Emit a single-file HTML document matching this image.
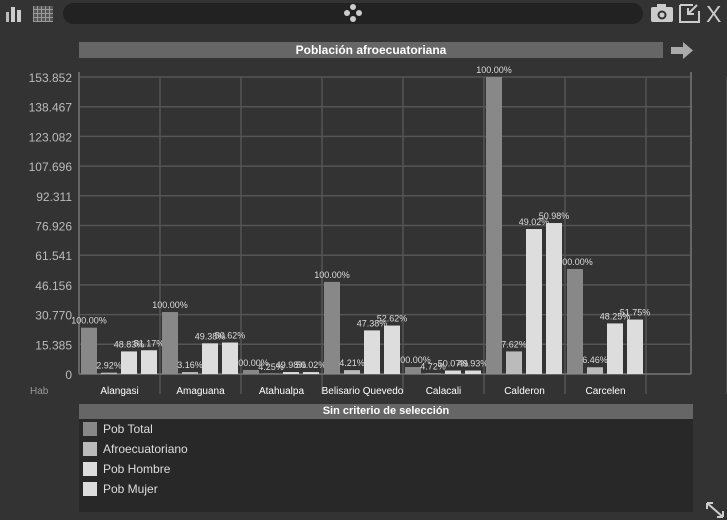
<!DOCTYPE html>
<html><head><meta charset="utf-8"><style>
body{margin:0;width:727px;height:520px;background:#333;overflow:hidden;font-family:"Liberation Sans",sans-serif;position:relative}
.abs{position:absolute}
</style></head><body>
<div class="abs" style="left:4px;top:4px;width:20px;height:18px">
<svg width="20" height="18"><rect x="2" y="8" width="3" height="10" fill="#bbb"/><rect x="7" y="3" width="4" height="15" fill="#ccc"/><rect x="13" y="6" width="4" height="12" fill="#ccc"/></svg></div>
<div class="abs" style="left:33px;top:6px;width:20px;height:16px;background:repeating-linear-gradient(90deg,#999 0 1px,transparent 1px 4px),repeating-linear-gradient(0deg,#999 0 1px,#555 1px 4px)"></div>
<div class="abs" style="left:63px;top:3px;width:580px;height:21px;background:#222;border-radius:11px"></div>
<svg class="abs" style="left:343px;top:3px" width="20" height="20"><circle cx="10" cy="4" r="3" fill="#ccc"/><circle cx="10" cy="16" r="3" fill="#ccc"/><circle cx="4" cy="10" r="3" fill="#ccc"/><circle cx="16" cy="10" r="3" fill="#ccc"/></svg>
<svg class="abs" style="left:651px;top:4px" width="22" height="18"><rect x="0" y="3" width="22" height="15" rx="2" fill="#ccc"/><rect x="6" y="0" width="9" height="4" fill="#ccc"/><circle cx="11" cy="11" r="4.5" fill="#333"/><circle cx="11" cy="11" r="2.5" fill="#ccc"/></svg>
<svg class="abs" style="left:679px;top:2px" width="22" height="21"><path d="M1 3h13M1 3v17h19V9" stroke="#ccc" stroke-width="2" fill="none"/><path d="M18 3l-8 8M9 6v6h6" stroke="#ccc" stroke-width="2" fill="none"/></svg>
<div class="abs" style="left:706px;top:1px;color:#ccc;font-size:23px">X</div>
<div class="abs" style="left:79px;top:42px;width:584px;height:16px;background:#666;color:#fff;font-size:12px;font-weight:bold;text-align:center;line-height:16px">Población afroecuatoriana</div>
<svg class="abs" style="left:671px;top:42px" width="22" height="17"><path d="M0 5h12V0l10 8.5L12 17v-5H0z" fill="#aaa"/></svg>
<svg id="ch" class="abs" style="left:0;top:60px" width="727" height="340"></svg>
<div class="abs" style="left:79px;top:404px;width:614px;height:108px;background:#282828">
<div style="height:15px;background:#666;color:#fff;font-size:11px;font-weight:bold;text-align:center;line-height:15px">Sin criterio de selección</div>
<div id="leg"></div></div>
<svg class="abs" style="left:706px;top:502px" width="18" height="16"><path d="M1 1l16 14M1 1h6M1 1v6M17 15h-6M17 15v-6" stroke="#ccc" stroke-width="2" fill="none"/></svg>
<script>
const categories=["Alangasi","Amaguana","Atahualpa","Belisario Quevedo","Calacali","Calderon","Carcelen"];
const seriesNames=["Pob Total","Afroecuatoriano","Pob Hombre","Pob Mujer"];
const pobTotal=[24.0,32.1,2.1,47.7,3.6,153.85,54.4];
const afro=[0.7,1.0,0.1,2.0,0.2,11.7,3.5];
const hombre=[11.7,15.9,1.0,22.6,1.8,75.1,26.2];
const mujer=[12.3,16.3,1.0,25.1,1.8,78.2,28.2];
const labTotal=["100.00%","100.00%","100.00%","100.00%","100.00%","100.00%","100.00%"];
const labAfro=["2.92%","3.16%","4.25%","4.21%","4.72%","7.62%","6.46%"];
const labH=["48.83%","49.38%","49.98%","47.38%","50.07%","49.02%","48.25%"];
const labM=["51.17%","50.62%","50.02%","52.62%","49.93%","50.98%","51.75%"];
const ticks=["0","15.385","30.770","46.156","61.541","76.926","92.311","107.696","123.082","138.467","153.852"];
const yMax=153.852;
const colors=["#888","#bbb","#ddd","#ddd"];
const NS="http://www.w3.org/2000/svg",svg=document.getElementById('ch');
const X0=79,X1=691,YT=17,YB=314,SW=81;
const y=v=>YB-v/yMax*(YB-YT);
function el(t,a,p){const e=document.createElementNS(NS,t);for(const k in a)e.setAttribute(k,a[k]);(p||svg).appendChild(e);return e;}
ticks.forEach((t,i)=>{const v=i*yMax/(ticks.length-1),yy=y(v);
const g=el('line',{x1:X0,x2:X1,y1:yy,y2:yy,stroke:'#555','stroke-width':1.5});

const tx=el('text',{x:72,y:yy+5,fill:'#bbb','font-size':12,'text-anchor':'end'});tx.textContent=t;
});
for(let i=0;i<=categories.length;i++){const l=el('line',{x1:X0+SW*(i+1),x2:X0+SW*(i+1),y1:YT,y2:YB+20,stroke:'#555','stroke-width':1.5});
}
el('line',{x1:X0,x2:X0,y1:YT-5,y2:YB,stroke:'#666','stroke-width':2});
el('line',{x1:X1,x2:X1,y1:YT-5,y2:YB,stroke:'#666','stroke-width':2});
el('line',{x1:X0,x2:X1,y1:YB,y2:YB,stroke:'#666','stroke-width':2});
const hab=el('text',{x:30,y:334,fill:'#999','font-size':10});hab.textContent='Hab';

const data=[pobTotal,afro,hombre,mujer],labs=[labTotal,labAfro,labH,labM];
categories.forEach((c,i)=>{
const t=el('text',{x:X0+SW*i+SW/2,y:334,fill:'#fff','font-size':10,'text-anchor':'middle'});t.textContent=c;

data.forEach((s,j)=>{const bx=X0+SW*i+2+j*20,by=y(s[i]);
const r=el('rect',{x:bx,y:by,width:16,height:YB-by,fill:colors[j]});

const lt=el('text',{x:bx+8,y:by-4,fill:'#ddd','font-size':9,'text-anchor':'middle'});lt.textContent=labs[j][i];
});});
const leg=document.getElementById('leg');
seriesNames.forEach((n,j)=>{const d=document.createElement('div');


d.style.cssText='height:20px;display:flex;align-items:center;padding-left:4px;color:#ddd;font-size:12px';
d.innerHTML='<span style="width:14px;height:14px;background:'+colors[j]+';margin-right:6px;display:inline-block"></span>'+n;
leg.appendChild(d);});
</script>
</body></html>
